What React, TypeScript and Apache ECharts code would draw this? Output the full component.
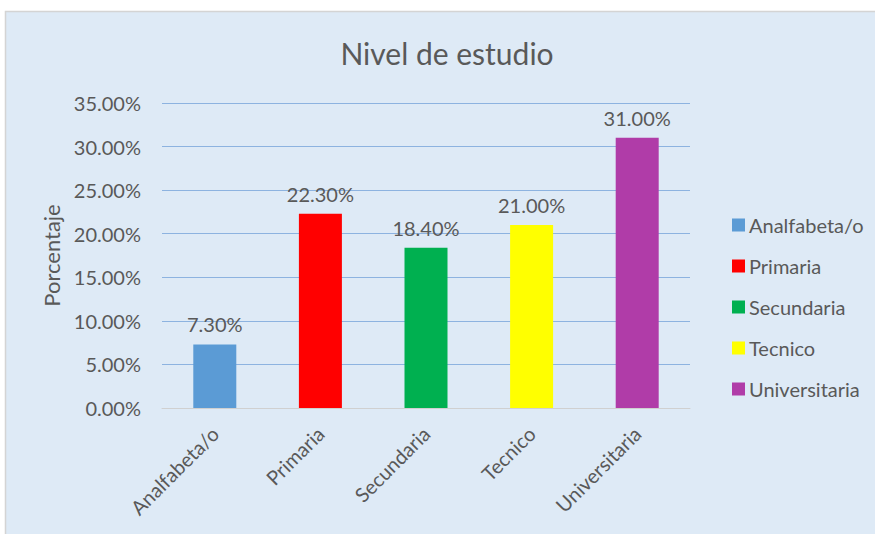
import React, { useEffect, useRef } from "react";
import * as echarts from "echarts";

const categories = ["Analfabeta/o", "Primaria", "Secundaria", "Tecnico", "Universitaria"];
const values = [7.3, 22.3, 18.4, 21.0, 31.0];
const colors = ["#5B9BD5", "#FF0000", "#00B050", "#FFFF00", "#B03CA8"];
const yTicks = { min: 0, max: 35, interval: 5 };
const titleText = "Nivel de estudio";
const yAxisName = "Porcentaje";

const FONT = "Lato";
const TEXT = "#595959";

export default function App() {
  const ref = useRef<HTMLDivElement>(null);
  useEffect(() => {
    if (!ref.current) return;
    const chart = echarts.init(ref.current, undefined, { renderer: "svg" });
    const series = categories.map((name, i) => ({
      name,
      type: "bar" as const,
      stack: "all",
      barWidth: 43,
      itemStyle: { color: colors[i] },
      data: categories.map((_, j) => (j === i ? values[i] : "-")),
      label: {
        show: true,
        position: "top" as const,
        distance: 10,
        color: TEXT,
        fontFamily: FONT,
        fontSize: 20,
        formatter: (p: any) => Number(p.value).toFixed(2) + "%",
      },
    }));
    chart.setOption({
      animation: false,
      textStyle: { fontFamily: FONT },
      graphic: [
        {
          type: "rect",
          shape: { x: 5.5, y: 11.5, width: 875, height: 530 },
          style: { fill: "#DEEAF6", stroke: "#D4D4D4", lineWidth: 1.5 },
          z: -10,
        },
        {
          type: "text",
          x: 447,
          y: 53,
          style: {
            text: titleText,
            fill: TEXT,
            font: `30px ${FONT}`,
            align: "center",
            verticalAlign: "middle",
          },
        },
      ],
      grid: { left: 162, right: 185, top: 103, bottom: 126 },
      legend: {
        orient: "vertical",
        left: 727,
        top: 210,
        itemWidth: 13,
        itemHeight: 13,
        itemGap: 21,
        icon: "rect",
        textStyle: { color: TEXT, fontFamily: FONT, fontSize: 20, padding: [0, 0, 0, -1] },
        data: categories,
      },
      xAxis: {
        type: "category",
        data: categories,
        axisLine: { show: true, lineStyle: { color: "#D0D0D0", width: 1 } },
        axisTick: { show: false },
        axisLabel: {
          rotate: 45,
          margin: 22,
          color: TEXT,
          fontFamily: FONT,
          fontSize: 20,
        },
      },
      yAxis: {
        type: "value",
        min: yTicks.min,
        max: yTicks.max,
        interval: yTicks.interval,
        name: yAxisName,
        nameLocation: "middle",
        nameGap: 98,
        nameTextStyle: { color: TEXT, fontFamily: FONT, fontSize: 22 },
        axisLine: { show: false },
        axisTick: { show: false },
        splitLine: { lineStyle: { color: "#8DB3E0", width: 1 } },
        axisLabel: {
          margin: 21,
          color: TEXT,
          fontFamily: FONT,
          fontSize: 20,
          formatter: (v: number) => v.toFixed(2) + "%",
        },
      },
      series,
    });
    return () => chart.dispose();
  }, []);
  return (
    <div style={{ position: "fixed", left: 0, top: 0, width: 875, height: 534, background: "#fff" }}>
      <div ref={ref} style={{ width: 875, height: 534 }} />
    </div>
  );
}
